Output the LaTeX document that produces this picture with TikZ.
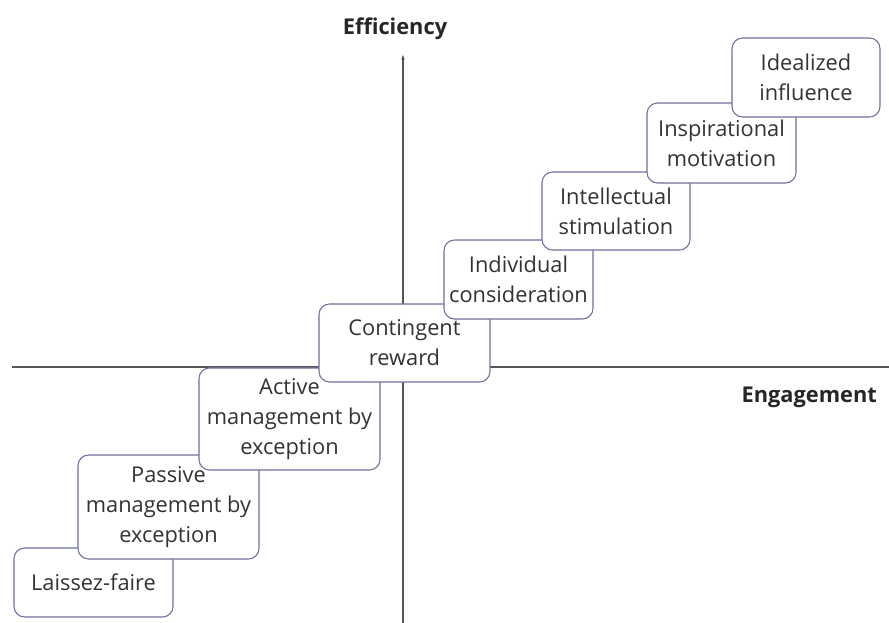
\documentclass[tikz,border=0pt]{standalone}
\usepackage{fontspec}
\setmainfont{Open Sans}
\usepackage{tikz}
\usetikzlibrary{positioning,arrows.meta,calc}
\definecolor{frame}{HTML}{6E6F9E}
\definecolor{axis}{HTML}{555555}
\definecolor{ink}{HTML}{333333}

\begin{document}
\begin{tikzpicture}[x=0.03cm, y=-0.03cm,
  stair/.style={draw=frame, line width=0.9pt, fill=white, rounded corners=9pt, align=center,
    inner sep=0pt, font=\fontsize{18.6}{25.5}\selectfont, text=ink},
  head/.style={font=\fontsize{18.6}{22}\selectfont\bfseries, text=black!85}]
\useasboundingbox (0,0) rectangle (889,623);
% axes
\coordinate (top) at (403,55);
\coordinate (bottom) at (403,623);
\coordinate (left) at (12,367);
\coordinate (right) at (889,367);
\draw[axis, line width=0.9pt, -{Stealth[length=4pt,width=3pt]}] (bottom) -- (top);
\draw[axis, line width=0.9pt] (left) -- (right);
\node[head] (eff) at (395,29) {Efficiency};
\node[head, anchor=east] (eng) at (881,397) {Engagement};
% the stairs, lowest first
\node[stair, minimum width=4.77cm, minimum height=2.07cm] (laissez) at (93.5,582.5) {Laissez-faire};
\node[stair, minimum width=5.43cm, minimum height=3.12cm] (passive) at (168.5,507) {Passive\\management by\\exception};
\node[stair, minimum width=5.43cm, minimum height=3.06cm] (active) at (289.5,419) {Active\\management by\\exception};
\node[stair, minimum width=5.13cm, minimum height=2.34cm] (contingent) at (404.5,343) {Contingent\\reward};
\node[stair, minimum width=4.47cm, minimum height=2.37cm] (individual) at (518.5,279.5) {Individual\\consideration};
\node[stair, minimum width=4.44cm, minimum height=2.34cm] (intellectual) at (616,211) {Intellectual\\stimulation};
\node[stair, minimum width=4.47cm, minimum height=2.40cm] (inspirational) at (721.5,143) {Inspirational\\motivation};
\node[stair, minimum width=4.44cm, minimum height=2.37cm] (idealized) at (806,77.5) {Idealized\\influence};
\end{tikzpicture}
\end{document}
